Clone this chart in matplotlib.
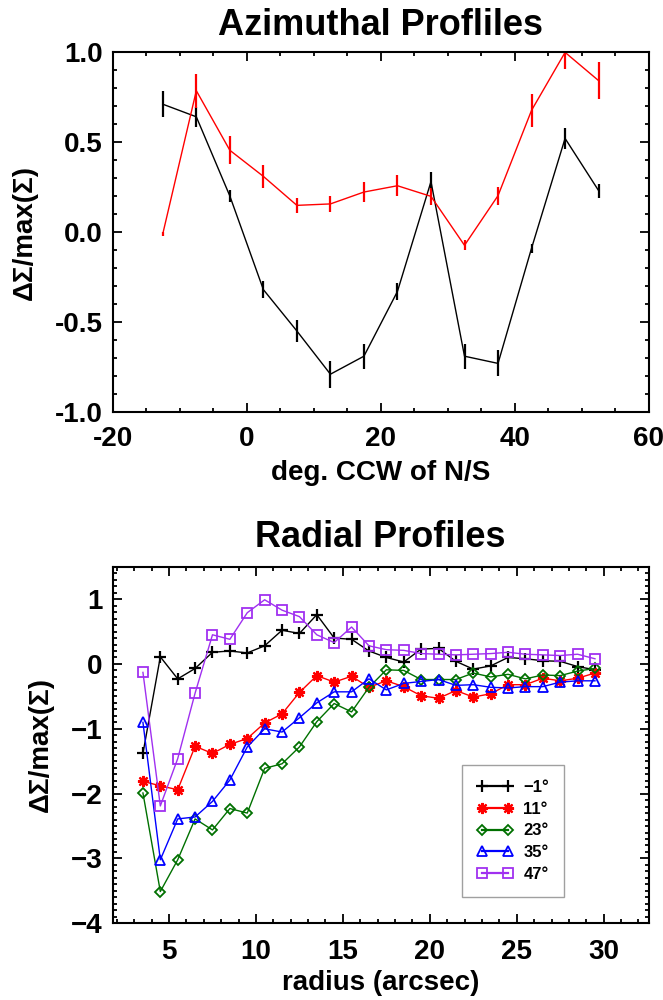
import matplotlib
matplotlib.use('Agg')
import matplotlib.pyplot as plt
from matplotlib.ticker import MultipleLocator, FuncFormatter

plt.rcParams['font.family'] = ['Liberation Sans', 'DejaVu Sans']
plt.rcParams['font.weight'] = 'bold'

# Azimuthal profiles (deg. CCW of N/S)
angle = [-12.5, -7.5, -2.5, 2.5, 7.5, 12.5, 17.5, 22.5, 27.5, 32.5, 37.5, 42.5, 47.5, 52.5]
az_black = [0.71, 0.64, 0.20, -0.32, -0.55, -0.79, -0.69, -0.33, 0.28, -0.69, -0.73, -0.09, 0.52, 0.23]
az_black_err = [0.072, 0.056, 0.035, 0.048, 0.062, 0.076, 0.07, 0.048, 0.054, 0.07, 0.072, 0.025, 0.06, 0.039]
az_red = [-0.01, 0.785, 0.454, 0.309, 0.148, 0.156, 0.222, 0.257, 0.198, -0.074, 0.202, 0.676, 0.998, 0.841]
az_red_err = [0.01, 0.095, 0.077, 0.063, 0.043, 0.046, 0.054, 0.057, 0.046, 0.028, 0.05, 0.093, 0.09, 0.102]

# Radial profiles (radius in arcsec)
radius = [3.5, 4.5, 5.5, 6.5, 7.5, 8.5, 9.5, 10.5, 11.5, 12.5, 13.5, 14.5, 15.5, 16.5,
          17.5, 18.5, 19.5, 20.5, 21.5, 22.5, 23.5, 24.5, 25.5, 26.5, 27.5, 28.5, 29.5]
rad_m1 = [-1.38, 0.11, -0.23, -0.07, 0.18, 0.20, 0.17, 0.28, 0.52, 0.47, 0.76, 0.40, 0.38, 0.20,
          0.10, 0.03, 0.23, 0.24, 0.04, -0.08, -0.03, 0.10, 0.08, 0.05, 0.04, -0.04, -0.09]
rad_11 = [-1.81, -1.88, -1.94, -1.27, -1.38, -1.24, -1.15, -0.91, -0.77, -0.44, -0.18, -0.28, -0.19, -0.36,
          -0.26, -0.35, -0.49, -0.53, -0.41, -0.51, -0.46, -0.32, -0.32, -0.22, -0.26, -0.22, -0.14]
rad_23 = [-1.99, -3.51, -3.02, -2.39, -2.56, -2.23, -2.30, -1.61, -1.54, -1.28, -0.89, -0.61, -0.74, -0.36,
          -0.09, -0.10, -0.24, -0.24, -0.24, -0.14, -0.20, -0.16, -0.23, -0.17, -0.18, -0.11, -0.07]
rad_35 = [-0.90, -3.02, -2.39, -2.36, -2.12, -1.79, -1.28, -1.00, -1.05, -0.83, -0.60, -0.43, -0.43, -0.23,
          -0.40, -0.30, -0.27, -0.24, -0.33, -0.32, -0.36, -0.37, -0.35, -0.35, -0.28, -0.26, -0.26]
rad_47 = [-0.13, -2.19, -1.46, -0.45, 0.45, 0.38, 0.79, 0.99, 0.83, 0.73, 0.45, 0.33, 0.57, 0.28,
          0.22, 0.21, 0.16, 0.15, 0.14, 0.15, 0.16, 0.18, 0.15, 0.14, 0.13, 0.15, 0.08]
rad_labels = ['\u22121\u00b0', '11\u00b0', '23\u00b0', '35\u00b0', '47\u00b0']


def style_axes(ax):
    for s in ax.spines.values():
        s.set_linewidth(1.5)
    ax.tick_params(which='both', direction='in', top=True, right=True, width=1.3, labelsize=20)
    ax.tick_params(which='major', length=6.5)
    ax.tick_params(which='minor', length=3.2)


fig = plt.figure(figsize=(6.63, 10.0), dpi=100)

# Gráfico de cima: perfis azimutais
ax1 = fig.add_axes([0.1697, 0.588, 0.809, 0.360])
ax1.errorbar(angle, az_black, yerr=az_black_err, color='black', lw=1.0, elinewidth=1.6, capsize=0)
ax1.errorbar(angle, az_red, yerr=az_red_err, color='red', lw=1.0, elinewidth=1.6, capsize=0)
ax1.set_xlim(-20, 60)
ax1.set_ylim(-1.0, 1.0)
ax1.xaxis.set_major_locator(MultipleLocator(20))
ax1.xaxis.set_minor_locator(MultipleLocator(5))
ax1.yaxis.set_major_locator(MultipleLocator(0.5))
ax1.yaxis.set_minor_locator(MultipleLocator(0.1))
ax1.xaxis.set_major_formatter(FuncFormatter(lambda v, p: '%d' % round(v)))
ax1.yaxis.set_major_formatter(FuncFormatter(lambda v, p: '%.1f' % v))
style_axes(ax1)
ax1.tick_params(axis='x', pad=10)
ax1.tick_params(axis='y', pad=7)
ax1.set_title('Azimuthal Profliles', fontsize=26, fontweight='bold', pad=12)
ax1.set_xlabel('deg. CCW of N/S', fontsize=20, fontweight='bold', labelpad=6)
ax1.set_ylabel('\u0394\u03a3/max(\u03a3)', fontsize=20, fontweight='bold', labelpad=12)

# Gráfico de baixo: perfis radiais
ax2 = fig.add_axes([0.1697, 0.0767, 0.809, 0.3566])
ax2.plot(radius, rad_m1, color='black', lw=1.0, marker='+', ms=8, mew=1.6, label=rad_labels[0])
ax2.plot(radius, rad_11, color='red', lw=1.0, marker=(8, 2, 0), ms=8, mew=1.6, label=rad_labels[1])
ax2.plot(radius, rad_23, color='#007000', lw=1.0, marker='D', ms=5.5, mew=1.3, mfc='none', label=rad_labels[2])
ax2.plot(radius, rad_35, color='blue', lw=1.0, marker='^', ms=7.5, mew=1.3, mfc='none', label=rad_labels[3])
ax2.plot(radius, rad_47, color='#a030f0', lw=1.0, marker='s', ms=7, mew=1.3, mfc='none', label=rad_labels[4])
ax2.set_xlim(1.75, 32.6)
ax2.set_ylim(-4, 1.5)
ax2.xaxis.set_major_locator(MultipleLocator(5))
ax2.xaxis.set_minor_locator(MultipleLocator(1))
ax2.yaxis.set_major_locator(MultipleLocator(1))
ax2.yaxis.set_minor_locator(MultipleLocator(0.1))
ax2.xaxis.set_major_formatter(FuncFormatter(lambda v, p: '%d' % round(v)))
ax2.yaxis.set_major_formatter(FuncFormatter(lambda v, p: ('%d' % round(v)).replace('-', '\u2212')))
style_axes(ax2)
ax2.tick_params(axis='x', pad=11)
ax2.tick_params(axis='y', pad=7)
ax2.set_title('Radial Profiles', fontsize=26, fontweight='bold', pad=14)
ax2.set_xlabel('radius (arcsec)', fontsize=20, fontweight='bold', labelpad=4)
ax2.set_ylabel('\u0394\u03a3/max(\u03a3)', fontsize=20, fontweight='bold', labelpad=12)

leg = ax2.legend(loc='lower left', bbox_to_anchor=(0.651, 0.0746), numpoints=2, fontsize=12,
                 handlelength=2.2, labelspacing=0.4, borderpad=0.9, handletextpad=0.6,
                 borderaxespad=0, fancybox=False, framealpha=1, edgecolor='#a0a0a0')
leg.get_frame().set_linewidth(1.0)
for h in leg.get_lines():
    h.set_linewidth(1.6)

fig.savefig('out.png', dpi=100)
